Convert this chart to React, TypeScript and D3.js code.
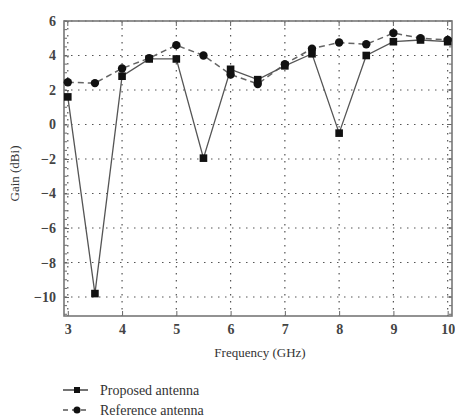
import React, { useEffect, useRef } from 'react';
import * as d3 from 'd3';

const frequencies = [3, 3.5, 4, 4.5, 5, 5.5, 6, 6.5, 7, 7.5, 8, 8.5, 9, 9.5, 10];
const proposedGain = [1.6, -9.8, 2.8, 3.8, 3.8, -1.95, 3.2, 2.6, 3.4, 4.1, -0.5, 4.0, 4.8, 4.9, 4.8];
const referenceGain = [2.45, 2.4, 3.25, 3.85, 4.6, 4.0, 2.9, 2.35, 3.5, 4.4, 4.75, 4.65, 5.3, 5.0, 4.9];
const xTicks = [3, 4, 5, 6, 7, 8, 9, 10];
const yTicks = [-10, -8, -6, -4, -2, 0, 2, 4, 6];
const seriesNames = ['Proposed antenna', 'Reference antenna'];

const App = () => {
    const ref = useRef(null);

    useEffect(() => {
        const svg = d3.select(ref.current);
        svg.selectAll('*').remove();
        const font = "'Liberation Serif', 'Times New Roman', 'DejaVu Serif', serif";

        const left = 64, right = 452, top = 21, bottom = 316;

        const x = d3.scaleLinear().domain([2.93, 10.08]).range([left, right]);
        const y = d3.scaleLinear().domain([-11.1, 6]).range([bottom, top]);

        // grid
        const grid = svg.append('g').attr('stroke', '#555').attr('stroke-width', 1.2).attr('stroke-dasharray', '1.5,5.5');
        xTicks.forEach(t => {
            grid.append('line').attr('x1', x(t)).attr('x2', x(t)).attr('y1', top).attr('y2', bottom);
        });
        yTicks.forEach(t => {
            grid.append('line').attr('x1', left).attr('x2', right).attr('y1', y(t)).attr('y2', y(t));
        });

        // axes
        const axisColor = '#666';
        const yMinor = d3.range(-11, 6.01, 0.5);
        const leftAxis = svg.append('g').attr('transform', `translate(${left},0)`)
            .call(d3.axisLeft(y).tickValues(yTicks).tickSize(-5).tickPadding(8)
                .tickFormat(d => String(d).replace('-', '\u2212')));
        const bottomAxis = svg.append('g').attr('transform', `translate(0,${bottom})`)
            .call(d3.axisBottom(x).tickValues(xTicks).tickSize(-5).tickPadding(8));
        [leftAxis, bottomAxis].forEach(a => {
            a.attr('font-family', null);
            a.select('.domain').remove();
            a.selectAll('line').attr('stroke', axisColor).attr('stroke-width', 1);
            a.selectAll('text').style('font-family', font).style('font-size', '14px')
                .style('font-weight', 'bold').attr('fill', '#444');
        });

        const minor = svg.append('g').attr('stroke', axisColor).attr('stroke-width', 1);
        yMinor.forEach(t => {
            minor.append('line').attr('x1', left).attr('x2', left + 3).attr('y1', y(t)).attr('y2', y(t));
            minor.append('line').attr('x1', right).attr('x2', right - 3).attr('y1', y(t)).attr('y2', y(t));
        });
        xTicks.forEach(t => {
            minor.append('line').attr('x1', x(t)).attr('x2', x(t)).attr('y1', top).attr('y2', top + 5);
        });
        yTicks.forEach(t => {
            minor.append('line').attr('x1', right).attr('x2', right - 5).attr('y1', y(t)).attr('y2', y(t));
        });

        svg.append('rect').attr('x', left).attr('y', top).attr('width', right - left).attr('height', bottom - top)
            .attr('fill', 'none').attr('stroke', '#777').attr('stroke-width', 1.6);

        // series
        const line = d3.line<number>().x((_, i) => x(frequencies[i])).y(d => y(d));

        svg.append('path').datum(referenceGain).attr('d', line).attr('fill', 'none')
            .attr('stroke', '#666').attr('stroke-width', 1.5).attr('stroke-dasharray', '6,4');
        svg.append('path').datum(proposedGain).attr('d', line).attr('fill', 'none')
            .attr('stroke', '#555').attr('stroke-width', 1.3);

        svg.append('g').selectAll('circle').data(referenceGain).enter().append('circle')
            .attr('cx', (_, i) => x(frequencies[i])).attr('cy', d => y(d)).attr('r', 4.2).attr('fill', '#111');
        svg.append('g').selectAll('rect').data(proposedGain).enter().append('rect')
            .attr('x', (_, i) => x(frequencies[i]) - 3.8).attr('y', d => y(d) - 3.8)
            .attr('width', 7.6).attr('height', 7.6).attr('fill', '#111');

        // labels
        svg.append('text').attr('transform', `translate(19,${(top + bottom) / 2 + 5}) rotate(-90)`)
            .attr('text-anchor', 'middle').style('font-family', font).style('font-size', '13px').attr('fill', '#333')
            .text('Gain (dBi)');
        svg.append('text').attr('x', (left + right) / 2 + 2).attr('y', 357)
            .attr('text-anchor', 'middle').style('font-family', font).style('font-size', '13px').attr('fill', '#333')
            .text('Frequency (GHz)');

        // legend
        const legend = svg.append('g');
        seriesNames.forEach((name, i) => {
            const ly = 390 + i * 20;
            legend.append('line').attr('x1', 63).attr('x2', 88).attr('y1', ly).attr('y2', ly)
                .attr('stroke', i === 0 ? '#444' : '#555').attr('stroke-width', 1.5)
                .attr('stroke-dasharray', i === 0 ? null : '5,4');
            if (i === 0) {
                legend.append('rect').attr('x', 77 - 3).attr('y', ly - 3).attr('width', 6).attr('height', 6).attr('fill', '#111');
            } else {
                legend.append('circle').attr('cx', 77).attr('cy', ly).attr('r', 3.5).attr('fill', '#111');
            }
            legend.append('text').attr('x', 100).attr('y', ly + 4.5).style('font-family', font)
                .style('font-size', '14px').attr('fill', '#333').text(name);
        });
    }, []);

    return (
        <svg ref={ref} width={455} height={419} style={{ position: 'absolute', left: 0, top: 0 }}></svg>
    );
};

export default App;
